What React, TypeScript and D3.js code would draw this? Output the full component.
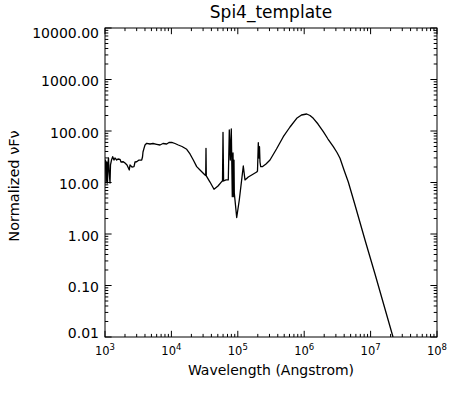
import * as d3 from "d3";

// Spi4_template SED (wavelength in Angstrom, normalized nuFnu)
const wavelength = [
  1000, 1017, 1035, 1061, 1091, 1110, 1129, 1149, 1190, 1210, 1253, 1306, 1366, 1414, 1501, 1570,
  1682, 1742, 1887, 2001, 2145, 2323, 2380, 2551, 2734, 2830, 3001, 3251, 3570, 3671, 3735, 3867,
  4004, 4246, 4762, 5284, 6005, 6735, 7472, 8497, 9202, 10105, 11330, 12705, 14443, 17000, 19060,
  21370, 24040, 26960, 32060, 32850, 33190, 33540, 38140, 43810, 50330, 57220, 58840, 59860, 61110,
  66440, 71930, 74470, 77100, 79810, 82640, 84670, 86760, 87660, 88570, 96260, 105300, 121000,
  128300, 143900, 161900, 192600, 198000, 203600, 208600, 212200, 215900, 221300, 233900, 265900,
  305400, 382500, 484500, 611200, 770900, 910700, 1090000, 1223000, 1371000, 1614000, 1940000,
  2282000, 2744000, 3119000, 3461000, 3976000, 4615000, 5823000, 8236000, 11650000, 16480000,
  21750000, 25860000,
];
const nuFnu = [
  19.1, 27.3, 9.78, 25.0, 9.78, 23.9, 29.9, 17.5, 9.78, 21.9, 27.3, 31.7, 27.3, 29.9, 27.3, 28.6,
  28.2, 25.0, 25.3, 23.9, 21.9, 17.5, 21.9, 20.0, 20.3, 25.0, 25.3, 27.3, 27.3, 31.3, 39.1, 46.1,
  53.5, 57.7, 55.9, 57.2, 55.2, 53.5, 57.2, 55.9, 59.8, 60.4, 57.2, 53.5, 50.0, 44.1, 35.8,
  27.3, 20.3, 17.5, 14.0, 13.7, 46.1, 13.4, 10.2, 7.38, 8.55, 10.4, 10.7, 94.4, 10.7,
  11.2, 11.2, 104.6, 27.3, 109.3, 5.3, 37.4, 5.3, 27.3, 6.25, 2.09, 4.57, 20.9,
  11.2, 12.8, 14.0, 16.0, 16.7, 59.3, 29.9, 49.6, 25.0, 20.3, 20.3, 22.9,
  27.3, 44.7, 77.5, 119.6, 176.5, 204.6, 213.9, 200, 176.5, 136.7, 96.9,
  69.9, 49.6, 38.2, 29.5, 17.5, 10.2, 3.66, 0.765, 0.167, 0.035,
  0.01, 0.0049,
];

const xDecades = [3, 4, 5, 6, 7, 8];
const yTickValues = [10000, 1000, 100, 10, 1, 0.1, 0.01];
const yTickLabels = ["10000.00", "1000.00", "100.00", "10.00", "1.00", "0.10", "0.01"];
const minorSteps = [2, 3, 4, 5, 6, 7, 8, 9];

const W = 472;
const H = 394;
const left = 105;
const right = 437;
const top = 28;
const bottom = 337;
const font = "'DejaVu Sans', sans-serif";

const App = () => {
  const x = d3.scaleLog().domain([1e3, 1e8]).range([left, right]);
  const y = d3.scaleLog().domain([0.01, 1e4]).range([bottom, top]);

  const line = d3.line<number>()
    .x((_, i) => x(wavelength[i]))
    .y(d => y(d));

  // minor ticks, 2..9 in every decade
  const xMinor = xDecades.slice(0, -1).flatMap(k => minorSteps.map(m => m * 10 ** k));
  const yMinor = [-2, -1, 0, 1, 2, 3].flatMap(k => minorSteps.map(m => m * 10 ** k));

  const majLx = 6.2, minLx = 3.1; // x axis ticks
  const majLy = 6.6, minLy = 3.3; // y axis ticks

  return (
    <svg width={W} height={H} style={{position: "absolute", left: 0, top: 0, background: "#fff"}}
         fontFamily={font}>
      <rect width={W} height={H} fill="#fff"/>
      <defs>
        <clipPath id="plot">
          <rect x={left} y={top} width={right - left} height={bottom - top}/>
        </clipPath>
      </defs>

      <text x={(left + right) / 2} y={18} textAnchor="middle" fontSize={17}>Spi4_template</text>

      {/* data */}
      <path d={line(nuFnu) ?? ""} fill="none" stroke="#000" strokeWidth={1.3}
            strokeLinejoin="round" clipPath="url(#plot)"/>

      {/* box */}
      <rect x={left} y={top} width={right - left} height={bottom - top} fill="none" stroke="#000" strokeWidth={1}/>

      {/* ticks on all four sides */}
      <g stroke="#000" strokeWidth={1}>
        {xDecades.map(k => (
          <g key={"xm" + k}>
            <line x1={x(10 ** k)} x2={x(10 ** k)} y1={bottom} y2={bottom - majLx}/>
            <line x1={x(10 ** k)} x2={x(10 ** k)} y1={top} y2={top + majLx}/>
          </g>
        ))}
        {xMinor.map(v => (
          <g key={"xn" + v}>
            <line x1={x(v)} x2={x(v)} y1={bottom} y2={bottom - minLx}/>
            <line x1={x(v)} x2={x(v)} y1={top} y2={top + minLx}/>
          </g>
        ))}
        {yTickValues.map(v => (
          <g key={"ym" + v}>
            <line x1={left} x2={left + majLy} y1={y(v)} y2={y(v)}/>
            <line x1={right} x2={right - majLy} y1={y(v)} y2={y(v)}/>
          </g>
        ))}
        {yMinor.map(v => (
          <g key={"yn" + v}>
            <line x1={left} x2={left + minLy} y1={y(v)} y2={y(v)}/>
            <line x1={right} x2={right - minLy} y1={y(v)} y2={y(v)}/>
          </g>
        ))}
      </g>

      {/* x tick labels */}
      {xDecades.map(k => (
        <text key={"xl" + k} x={x(10 ** k)} y={355} textAnchor="middle" fontSize={11.5}>
          10<tspan fontSize={8.5} dy={-5}>{k}</tspan>
        </text>
      ))}

      {/* y tick labels */}
      {yTickValues.map((v, i) => {
        const shift = i === 0 ? 4.5 : i === yTickValues.length - 1 ? -4 : 1.5;
        return (
          <text key={"yl" + v} x={99} y={y(v) + shift} dy="0.36em" textAnchor="end" fontSize={14}>
            {yTickLabels[i]}
          </text>
        );
      })}

      <text x={(left + right) / 2} y={375} textAnchor="middle" fontSize={14}>Wavelength (Angstrom)</text>
      <text transform={`translate(19,186) rotate(-90)`} textAnchor="middle" fontSize={14.5}>
        Normalized νFν
      </text>
    </svg>
  );
};

export default App;
